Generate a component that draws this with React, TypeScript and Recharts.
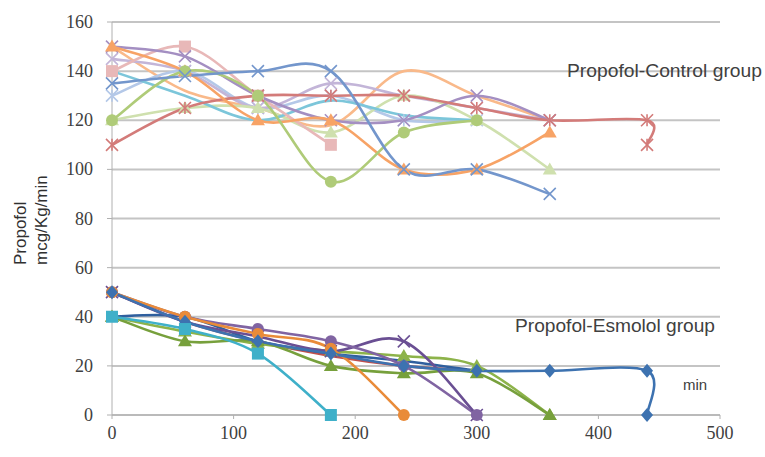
import { LineChart, Line, CartesianGrid, XAxis, YAxis } from "recharts";

// time points (min)
const baseTimes = [0, 60, 120, 180, 240, 300, 360];
const longTimes = [0, 60, 120, 180, 240, 300, 360, 440, 440];

const xTicks = [0, 100, 200, 300, 400, 500];
const yTicks = [0, 20, 40, 60, 80, 100, 120, 140, 160];

// Propofol-Control group
const ctrlBlue = [135, 138, 140, 140, 100, 100, 90];
const ctrlRed = [110, 125, 130, 130, 130, 125, 120, 120, 110];
const ctrlGreen = [120, 140, 130, 95, 115, 120];
const ctrlPurple = [150, 146, 130, 120, 120, 130, 120];
const ctrlCyan = [140, 130, 120, 128, 122, 120];
const ctrlOrange = [150, 140, 120, 120, 100, 100, 115];
const ctrlPink = [140, 150, 130, 110];
const ctrlLime = [120, 125, 125, 115, 130, 120, 100];
const ctrlLavender = [145, 140, 125, 135, 130, 125, 120];
const ctrlSky = [130, 140, 125, 130, 120, 120];
const ctrlPeach = [150, 132, 125, 118, 140, 130, 120];

// Propofol-Esmolol group
const esmBlue = [50, 38, 30, 25, 20, 18, 18, 18, 0];
const esmOrange = [50, 40, 33, 27, 0];
const esmCyan = [40, 35, 25, 0];
const esmPurple = [50, 40, 35, 30, 20, 0];
const esmViolet = [50, 38, 32, 26, 30, 0];
const esmGreen = [40, 30, 30, 20, 17, 17, 0];
const esmOlive = [40, 34, 29, 26, 24, 20, 0];
const esmRed = [50, 38, 30, 24, 20, 18];
const esmNavy = [40, 40, 30, 25, 22, 18];

type Shape = "x" | "star" | "circle" | "square" | "triangle" | "diamond" | "none";

const series: { id: string; times: number[]; values: number[]; color: string; shape: Shape }[] = [
  { id: "c-peach", times: baseTimes, values: ctrlPeach, color: "#f9b98a", shape: "none" },
  { id: "c-sky", times: baseTimes, values: ctrlSky, color: "#b4c8e8", shape: "star" },
  { id: "c-lav", times: baseTimes, values: ctrlLavender, color: "#c3b5d8", shape: "x" },
  { id: "c-lime", times: baseTimes, values: ctrlLime, color: "#cfe0ae", shape: "triangle" },
  { id: "c-cyan", times: baseTimes, values: ctrlCyan, color: "#7cc6da", shape: "none" },
  { id: "c-pink", times: baseTimes, values: ctrlPink, color: "#e8b8b8", shape: "square" },
  { id: "c-purple", times: baseTimes, values: ctrlPurple, color: "#a48fc2", shape: "x" },
  { id: "c-red", times: longTimes, values: ctrlRed, color: "#d37b79", shape: "star" },
  { id: "c-orange", times: baseTimes, values: ctrlOrange, color: "#f7a366", shape: "triangle" },
  { id: "c-green", times: baseTimes, values: ctrlGreen, color: "#afcb78", shape: "circle" },
  { id: "c-blue", times: baseTimes, values: ctrlBlue, color: "#7396cc", shape: "x" },
  { id: "e-red", times: baseTimes, values: esmRed, color: "#c0504d", shape: "none" },
  { id: "e-navy", times: baseTimes, values: esmNavy, color: "#2f5f9e", shape: "none" },
  { id: "e-olive", times: baseTimes, values: esmOlive, color: "#8db34a", shape: "triangle" },
  { id: "e-green", times: baseTimes, values: esmGreen, color: "#77a03c", shape: "triangle" },
  { id: "e-violet", times: baseTimes, values: esmViolet, color: "#6a4f93", shape: "x" },
  { id: "e-purple", times: baseTimes, values: esmPurple, color: "#8064a2", shape: "circle" },
  { id: "e-orange", times: baseTimes, values: esmOrange, color: "#e98b39", shape: "circle" },
  { id: "e-blue", times: longTimes, values: esmBlue, color: "#3d72b0", shape: "diamond" },
  { id: "e-cyan", times: baseTimes, values: esmCyan, color: "#3fb0c9", shape: "square" },
];

// Excel-like smoothed line (Catmull-Rom through the points)
function smoothCurve(context: any) {
  let pts: number[][] = [];
  return {
    areaStart() {},
    areaEnd() {},
    lineStart() {
      pts = [];
    },
    lineEnd() {
      if (!pts.length) return;
      context.moveTo(pts[0][0], pts[0][1]);
      for (let i = 0; i < pts.length - 1; i++) {
        const p0 = pts[i - 1] || pts[i];
        const p1 = pts[i];
        const p2 = pts[i + 1];
        const p3 = pts[i + 2] || p2;
        const t = 1 / 6;
        context.bezierCurveTo(
          p1[0] + (p2[0] - p0[0]) * t,
          p1[1] + (p2[1] - p0[1]) * t,
          p2[0] - (p3[0] - p1[0]) * t,
          p2[1] - (p3[1] - p1[1]) * t,
          p2[0],
          p2[1]
        );
      }
    },
    point(x: number, y: number) {
      pts.push([+x, +y]);
    },
  };
}

function marker(shape: Shape, color: string) {
  return (props: any) => {
    const { cx, cy, index } = props;
    const k = `${shape}-${index}`;
    if (cx == null || cy == null || shape === "none") return <g key={k} />;
    const r = 6;
    if (shape === "circle") return <circle key={k} cx={cx} cy={cy} r={r} fill={color} />;
    if (shape === "square") return <rect key={k} x={cx - r} y={cy - r} width={2 * r} height={2 * r} fill={color} />;
    if (shape === "triangle")
      return <path key={k} d={`M${cx},${cy - r - 1}L${cx + r + 1},${cy + r - 1}L${cx - r - 1},${cy + r - 1}Z`} fill={color} />;
    if (shape === "diamond")
      return <path key={k} d={`M${cx},${cy - r - 1}L${cx + r},${cy}L${cx},${cy + r + 1}L${cx - r},${cy}Z`} fill={color} />;
    const x = <path d={`M${cx - r},${cy - r}L${cx + r},${cy + r}M${cx + r},${cy - r}L${cx - r},${cy + r}`} stroke={color} strokeWidth={1.6} />;
    if (shape === "x") return <g key={k}>{x}</g>;
    return (
      <g key={k}>
        {x}
        <path d={`M${cx},${cy - r}L${cx},${cy + r}`} stroke={color} strokeWidth={1.6} />
      </g>
    );
  };
}

const serif = "'Liberation Serif', 'DejaVu Serif', serif";
const sans = "'Liberation Sans', Arial, sans-serif";

function XTick(props: any) {
  const { x, y, payload } = props;
  return (
    <text x={x} y={y + 16} textAnchor="middle" fontFamily={serif} fontSize={18} fill="#404040">
      {payload.value}
    </text>
  );
}

function YTick(props: any) {
  const { x, y, payload } = props;
  return (
    <text x={x} y={y + 6} textAnchor="end" fontFamily={serif} fontSize={18} fill="#404040">
      {payload.value}
    </text>
  );
}

export default function App() {
  return (
    <div style={{ position: "absolute", left: 0, top: 0, background: "#fff" }}>
      <LineChart width={765} height={457} margin={{ top: 22, right: 45, bottom: 0, left: 0 }}>
        <CartesianGrid vertical={false} stroke="#c4c4c4" strokeWidth={2} />
        <XAxis
          type="number"
          dataKey="t"
          domain={[0, 500]}
          ticks={xTicks}
          height={42}
          tick={<XTick />}
          tickSize={4}
          tickMargin={4}
          stroke="#b0b0b0"
          allowDuplicatedCategory
        />
        <YAxis
          type="number"
          domain={[0, 160]}
          ticks={yTicks}
          width={112}
          tick={<YTick />}
          tickSize={5}
          tickMargin={14}
          stroke="#b0b0b0"
        />
        {series.map((s) => (
          <Line
            key={s.id}
            data={s.values.map((v, i) => ({ t: s.times[i], v }))}
            dataKey="v"
            type={smoothCurve as any}
            stroke={s.color}
            strokeWidth={2.6}
            dot={marker(s.shape, s.color)}
            activeDot={false}
            isAnimationActive={false}
          />
        ))}
        <text x={26} y={265} transform="rotate(-90 26 265)" fontFamily={sans} fontSize={17} fill="#303030">
          Propofol
        </text>
        <text x={47} y={265} transform="rotate(-90 47 265)" fontFamily={sans} fontSize={17} fill="#303030">
          mcg/Kg/min
        </text>
        <text x={567} y={77} fontFamily={sans} fontSize={18} fill="#404040" textLength={195} lengthAdjust="spacingAndGlyphs">
          Propofol-Control group
        </text>
        <text x={515} y={332} fontFamily={sans} fontSize={18} fill="#404040" textLength={200} lengthAdjust="spacingAndGlyphs">
          Propofol-Esmolol group
        </text>
        <text x={683} y={390} fontFamily={sans} fontSize={15} fill="#404040">
          min
        </text>
      </LineChart>
    </div>
  );
}
